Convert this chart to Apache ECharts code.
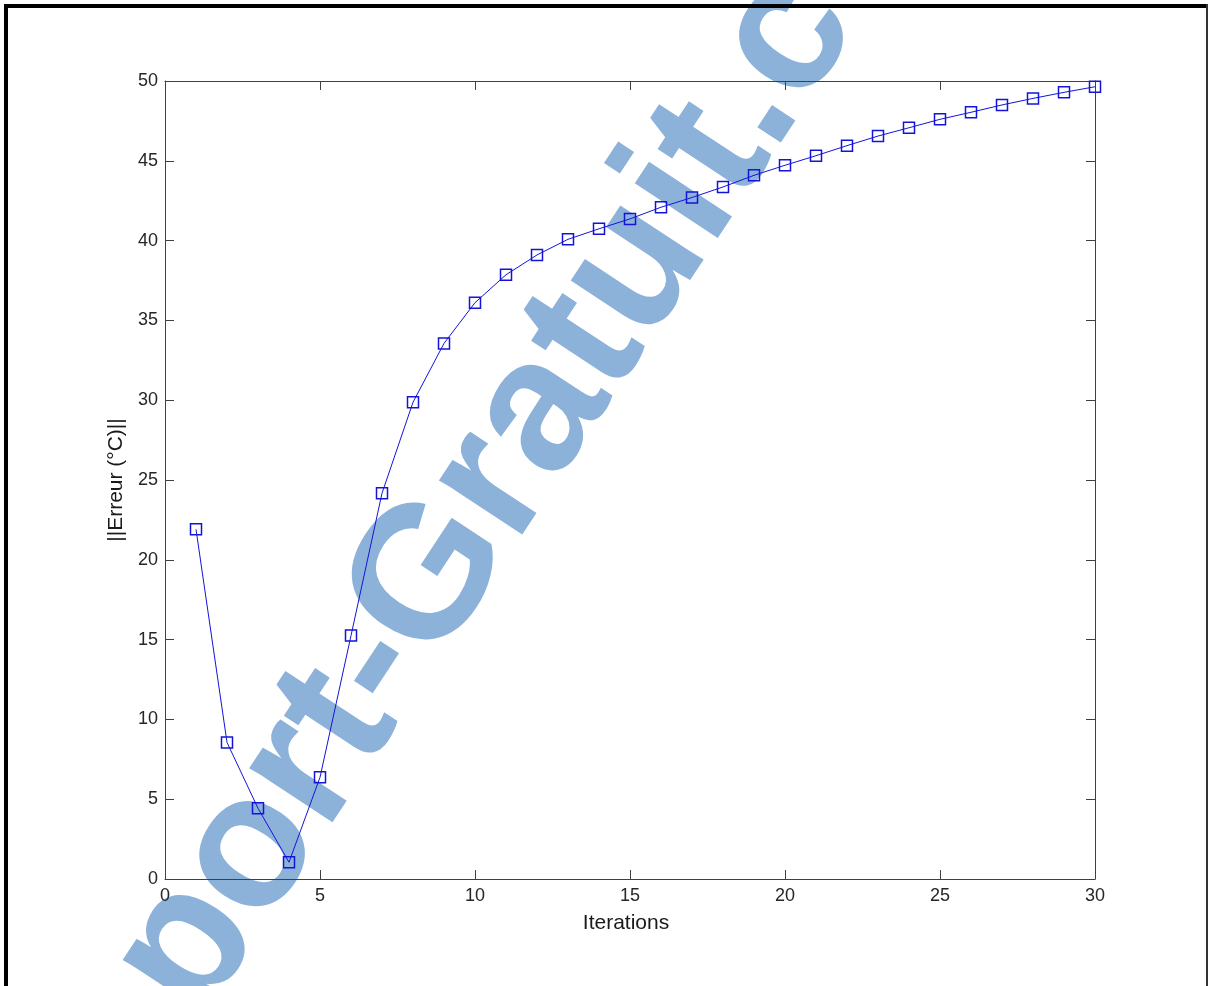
<!DOCTYPE html>
<html>
<head>
<meta charset="utf-8">
<script src="https://cdn.jsdelivr.net/npm/echarts@6/dist/echarts.min.js"></script>
<style>
html,body{margin:0;padding:0;background:#fff;}
#chart{width:1212px;height:986px;}
</style>
</head>
<body>
<div id="chart"></div>
<script>
const iterations = [1,2,3,4,5,6,7,8,9,10,11,12,13,14,15,16,17,18,19,20,21,22,23,24,25,26,27,28,29,30];
const erreur = [21.91,8.56,4.43,1.05,6.37,15.25,24.17,29.87,33.56,36.11,37.86,39.10,40.08,40.74,41.36,42.09,42.70,43.36,44.09,44.72,45.32,45.95,46.55,47.07,47.60,48.04,48.50,48.91,49.29,49.64];
const xTitle = 'Iterations';
const yTitle = '||Erreur (°C)||';
const watermark = 'Rapport-Gratuit.com';

const chart = echarts.init(document.getElementById('chart'), null, {renderer:'canvas'});
const axisColor = '#404040';
const labelStyle = {color:'#262626', fontFamily:'Liberation Sans, Arial, sans-serif', fontSize:18};
const ang = 56.6*Math.PI/180;

chart.setOption({
  backgroundColor:'#ffffff',
  animation:false,
  grid:{left:165, top:81, right:117, bottom:107, containLabel:false},
  xAxis:[
    {type:'value', min:0, max:30, interval:5, position:'bottom',
     name:xTitle, nameLocation:'middle', nameGap:34,
     nameTextStyle:{color:'#1a1a1a', fontFamily:'Liberation Sans, Arial, sans-serif', fontSize:21, padding:[0,8,0,0]},
     axisLine:{show:true, onZero:false, lineStyle:{color:axisColor, width:1}},
     axisTick:{show:true, inside:true, length:9, lineStyle:{color:axisColor}},
     axisLabel:Object.assign({margin:8}, labelStyle),
     splitLine:{show:false}},
    {type:'value', min:0, max:30, interval:5, position:'top',
     axisLine:{show:true, onZero:false, lineStyle:{color:axisColor, width:1}},
     axisTick:{show:true, inside:true, length:9, lineStyle:{color:axisColor}},
     axisLabel:{show:false}, splitLine:{show:false}}
  ],
  yAxis:[
    {type:'value', min:0, max:50, interval:5, position:'left',
     name:yTitle, nameLocation:'middle', nameGap:31, nameRotate:90,
     nameTextStyle:{color:'#1a1a1a', fontFamily:'Liberation Sans, Arial, sans-serif', fontSize:21},
     axisLine:{show:true, onZero:false, lineStyle:{color:axisColor, width:1}},
     axisTick:{show:true, inside:true, length:9, lineStyle:{color:axisColor}},
     axisLabel:Object.assign({margin:7}, labelStyle),
     splitLine:{show:false}},
    {type:'value', min:0, max:50, interval:5, position:'right',
     axisLine:{show:true, onZero:false, lineStyle:{color:axisColor, width:1}},
     axisTick:{show:true, inside:true, length:9, lineStyle:{color:axisColor}},
     axisLabel:{show:false}, splitLine:{show:false}}
  ],
  graphic:[
    {type:'text', z:-1, x:-40, y:1293, rotation:ang,
     style:{text:watermark, fill:'#8cb2da', font:'bold 188px "Liberation Sans", Arial, sans-serif',
            textAlign:'left', textVerticalAlign:'middle'}},
    {type:'rect', z:100, shape:{x:4, y:4, width:1204, height:4}, style:{fill:'#000'}},
    {type:'rect', z:100, shape:{x:4, y:4, width:4, height:990}, style:{fill:'#000'}},
    {type:'rect', z:100, shape:{x:1206, y:4, width:2, height:990}, style:{fill:'#333'}}
  ],
  series:[{
    type:'line', xAxisIndex:0, yAxisIndex:0, z:5,
    data:iterations.map((x,i)=>[x, erreur[i]]),
    symbol:'rect', symbolSize:11, showAllSymbol:true,
    lineStyle:{color:'#1414d8', width:1},
    itemStyle:{color:'rgba(255,255,255,0)', borderColor:'#1414d8', borderWidth:1.5},
    emphasis:{disabled:true}
  }]
});
</script>
</body>
</html>
